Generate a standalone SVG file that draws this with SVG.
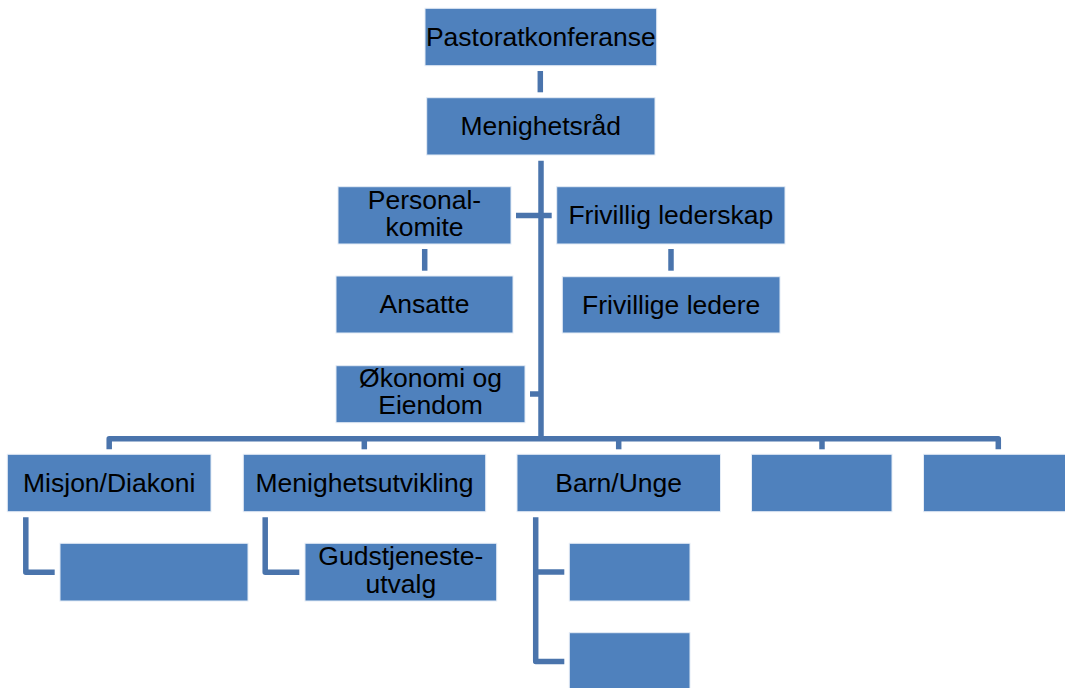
<svg xmlns="http://www.w3.org/2000/svg" width="1065" height="688" viewBox="0 0 1065 688">
<style>
.box{fill:#4F81BD;stroke:#E4ECF6;stroke-width:1}
.lbl{font-family:"Liberation Sans",Arial,sans-serif;font-size:26.5px;fill:#000;text-anchor:middle}
.ln{fill:none;stroke:#4A74AC;stroke-width:5.5;stroke-linejoin:round;stroke-linecap:butt}
</style>
<rect width="1065" height="688" fill="#fff"/>
<g id="connectors">
<path class="ln" d="M540.3,71 V92.3"/>
<path class="ln" d="M541,160.7 V441"/>
<path class="ln" d="M516,215.5 H551.7"/>
<path class="ln" d="M424.7,249 V270.7"/>
<path class="ln" d="M671,249 V270.7"/>
<path class="ln" d="M530,394 H541"/>
<path class="ln" d="M109.2,449.3 V438.7 H998.3 V449.3"/>
<path class="ln" d="M364.3,438.7 V449.3"/>
<path class="ln" d="M618.7,438.7 V449.3"/>
<path class="ln" d="M822,438.7 V449.3"/>
<path class="ln" d="M25.8,517.3 V572.2 H54.7"/>
<path class="ln" d="M265.2,517.3 V572.2 H299.3"/>
<path class="ln" d="M535.7,517.3 V661.5 H564.3"/>
<path class="ln" d="M535.7,572 H564.3"/>
</g>
<g id="pastoratkonferanse"><rect class="box" x="425" y="8.3" width="231.7" height="57.4"/><text class="lbl" x="540.8" y="45.5">Pastoratkonferanse</text></g>
<g id="menighetsrad"><rect class="box" x="426.7" y="97.7" width="228.3" height="57.3"/><text class="lbl" x="540.8" y="134.5">Menighetsråd</text></g>
<g id="personalkomite"><rect class="box" x="338" y="186.7" width="173" height="57.3"/><text class="lbl" x="424.5" y="208.5">Personal-</text><text class="lbl" x="424.5" y="236">komite</text></g>
<g id="frivillig-lederskap"><rect class="box" x="556.7" y="186.7" width="228.3" height="57.3"/><text class="lbl" x="670.8" y="224">Frivillig lederskap</text></g>
<g id="ansatte"><rect class="box" x="336" y="276" width="177" height="57"/><text class="lbl" x="424.5" y="313">Ansatte</text></g>
<g id="frivillige-ledere"><rect class="box" x="562.3" y="276.7" width="217.7" height="56.3"/><text class="lbl" x="671.2" y="313.5">Frivillige ledere</text></g>
<g id="okonomi"><rect class="box" x="336" y="365.7" width="189" height="57"/><text class="lbl" x="430.5" y="386.7">Økonomi og</text><text class="lbl" x="430.5" y="414">Eiendom</text></g>
<g id="misjon"><rect class="box" x="7.3" y="454.3" width="203.7" height="57.4"/><text class="lbl" x="109.2" y="491.5">Misjon/Diakoni</text></g>
<g id="menighetsutvikling"><rect class="box" x="243.3" y="454.3" width="242.4" height="57.4"/><text class="lbl" x="364.5" y="491.5">Menighetsutvikling</text></g>
<g id="barn-unge"><rect class="box" x="517" y="454.3" width="203.5" height="57.4"/><text class="lbl" x="618.7" y="491.5">Barn/Unge</text></g>
<g id="box4"><rect class="box" x="751.5" y="454.3" width="140.5" height="57.4"/></g>
<g id="box5"><rect class="box" x="923.5" y="454.3" width="150" height="57.4"/></g>
<g id="misjon-child"><rect class="box" x="60" y="543.3" width="188" height="57.7"/></g>
<g id="gudstjenesteutvalg"><rect class="box" x="305" y="543.3" width="191.7" height="57.7"/><text class="lbl" x="400.8" y="565">Gudstjeneste-</text><text class="lbl" x="400.8" y="593">utvalg</text></g>
<g id="barn-child1"><rect class="box" x="569.3" y="543.3" width="120.7" height="57.7"/></g>
<g id="barn-child2"><rect class="box" x="569.3" y="632.7" width="120.7" height="60"/></g>
</svg>
